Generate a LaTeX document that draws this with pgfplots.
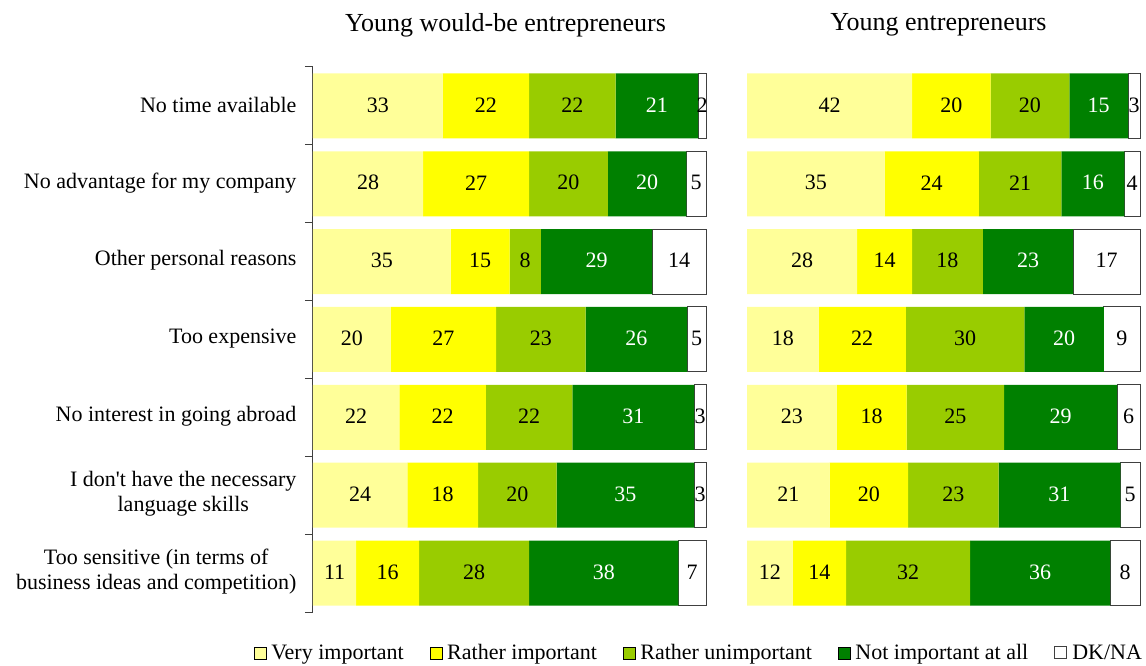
\documentclass[border=0pt]{standalone}
\usepackage{pgfplots}
\pgfplotsset{compat=1.18}
\usepackage{pgfplotstable}
\usepackage{fontspec}
\setmainfont{Liberation Serif}
\definecolor{cVI}{HTML}{FFFF99}
\definecolor{cRI}{HTML}{FFFF00}
\definecolor{cRU}{HTML}{99CC00}
\definecolor{cNI}{HTML}{008000}
\definecolor{cBd}{HTML}{404040}

% columns: y, value, label for each of 5 answers
\pgfplotstableread{
y a al b bl c cl d dl e el
0 33 33 22 22 22 22 21 21 2 2
1 28 28 27 27 20 20 20 20 5 5
2 35 35 15 15 8 8 28.3 29 13.7 14
3 19.8 20 26.8 27 22.8 23 25.8 26 4.8 5
4 22 22 22 22 22 22 31 31 3 3
5 24 24 18 18 20 20 35 35 3 3
6 11 11 16 16 28 28 38 38 7 7
}\tabL
\pgfplotstableread{
y a al b bl c cl d dl e el
0 42 42 20 20 20 20 15 15 3 3
1 35 35 24 24 21 21 16 16 4 4
2 28 28 14 14 18 18 23 23 17 17
3 18.2 18 22.2 22 30.2 30 20.2 20 9.2 9
4 22.8 23 17.8 18 24.8 25 28.8 29 5.8 6
5 21 21 20 20 23 23 31 31 5 5
6 11.6 12 13.6 14 31.6 32 35.6 36 7.6 8
}\tabR

\pgfplotsset{
  panel/.style={
    xbar stacked,
    x=3.93pt, y=77.86pt, y dir=reverse,
    xmin=0, xmax=100, ymin=-0.5, ymax=6.5,
    enlargelimits=false,
    bar width=65pt,
    clip=false,
    point meta=explicit symbolic,
    nodes near coords,
    every node near coord/.append style={font=\fontsize{22}{26}\selectfont, anchor=center, yshift=1pt},
    title style={font=\fontsize{26}{30}\selectfont, at={(0.5,1)}, anchor=center, yshift=36pt},
    legend image code/.code={\draw[##1] (0pt,-6pt) rectangle (12pt,6pt);},
  },
}

\begin{document}
\begin{tikzpicture}
\useasboundingbox (0,0) rectangle (1146pt,665pt);

\begin{axis}[panel,
  at={(313pt,53pt)}, anchor=south west,
  title={Young would-be entrepreneurs},
  title style={xshift=-4pt},
  axis x line=none,
  axis y line*=left,
  y axis line style={draw=cBd, line width=1pt, -},
  ytick={0,...,6},
  yticklabels={{No time available},{No advantage for my company},{Other personal reasons},{Too expensive},{No interest in going abroad},{I don\textquotesingle t have the necessary\\language skills},{Too sensitive (in terms of\\business ideas and competition)}},
  yticklabel style={align=center, font=\fontsize{22}{25}\selectfont, xshift=-13pt, yshift=1pt},
  minor ytick={-0.5,0.5,...,6.5},
  major tick length=0pt, minor tick length=8pt, tick align=outside,
  minor tick style={draw=cBd, line width=1pt},
  legend columns=5,
  legend style={draw=none, fill=none, at={(0.982,-0.075)}, anchor=center,
    font=\fontsize{22}{26}\selectfont,
    /tikz/every even column/.append style={column sep=24pt},
    /tikz/every odd column/.append style={column sep=3pt}},
]
\addplot[fill=cVI, draw=none] table[x=a, y=y, meta=al] {\tabL};
\addplot[fill=cRI, draw=none] table[x=b, y=y, meta=bl] {\tabL};
\addplot[fill=cRU, draw=none] table[x=c, y=y, meta=cl] {\tabL};
\addplot[fill=cNI, draw=none, every node near coord/.append style={text=white}] table[x=d, y=y, meta=dl] {\tabL};
\addplot[fill=white, draw=cBd, line width=1pt] table[x=e, y=y, meta=el] {\tabL};
\legend{Very important, Rather important, Rather unimportant, Not important at all, DK/NA}
\end{axis}

\begin{axis}[panel,
  at={(747pt,53pt)}, anchor=south west,
  title={Young entrepreneurs},
  title style={xshift=-5pt},
  axis lines=none,
]
\addplot[fill=cVI, draw=none] table[x=a, y=y, meta=al] {\tabR};
\addplot[fill=cRI, draw=none] table[x=b, y=y, meta=bl] {\tabR};
\addplot[fill=cRU, draw=none] table[x=c, y=y, meta=cl] {\tabR};
\addplot[fill=cNI, draw=none, every node near coord/.append style={text=white}] table[x=d, y=y, meta=dl] {\tabR};
\addplot[fill=white, draw=cBd, line width=1pt] table[x=e, y=y, meta=el] {\tabR};
\end{axis}
\end{tikzpicture}
\end{document}
